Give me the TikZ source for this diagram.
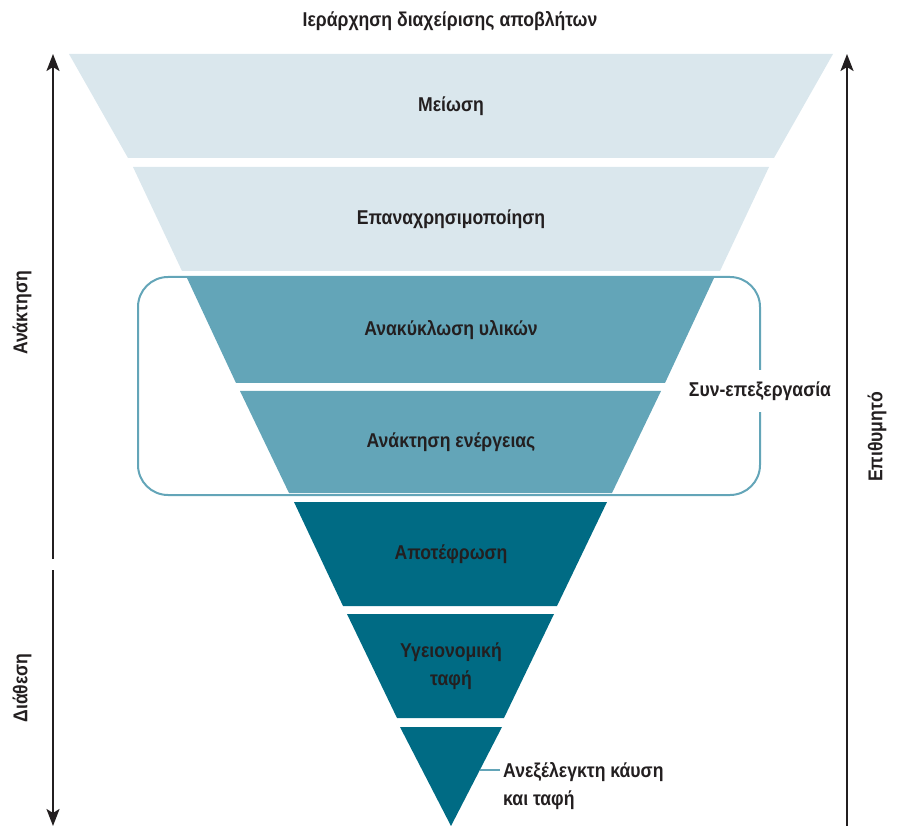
\documentclass[tikz,border=0pt]{standalone}
\usepackage{fontspec}
\setmainfont{Liberation Sans}[FakeStretch=0.88]
\usepackage{xcolor}
\usetikzlibrary{arrows.meta}

\definecolor{bandlight}{HTML}{DAE7ED}
\definecolor{bandmid}{HTML}{63A5B8}
\definecolor{banddark}{HTML}{006B84}
\definecolor{inkgray}{HTML}{231F20}

\begin{document}
\begin{tikzpicture}[
    x=1pt, y=-1pt,
    tier/.style={font=\bfseries\fontsize{20}{28}\selectfont, text=inkgray, align=center},
    sidelabel/.style={tier, rotate=90},
    axis/.style={line width=2.4pt, draw=inkgray, -{Stealth[length=17pt, width=13pt, inset=4pt]}},
    cobox/.style={draw=bandmid, line width=2pt, rounded corners=30pt}
]
    \useasboundingbox (0,0) rectangle (900,826);

    \node[tier] (title) at (450,21) {Ιεράρχηση διαχείρισης αποβλήτων};

    % co-processing frame
    \draw[cobox] (138,277) rectangle (760,495);
    \node[tier, fill=white, minimum height=42pt, inner sep=2pt] (coproc) at (760,391) {Συν-επεξεργασία};

    % funnel tiers
    \fill[bandlight] (69,54) -- (833,54) -- (774,158) -- (128,158) -- cycle;
    \fill[bandlight] (133,167) -- (769,167) -- (720,271) -- (182,271) -- cycle;
    \fill[bandmid] (187,278) -- (714,278) -- (665,383) -- (236,383) -- cycle;
    \fill[bandmid] (240,391) -- (661,391) -- (612,493) -- (289,493) -- cycle;
    \fill[banddark] (294,502) -- (607,502) -- (557,606) -- (343,606) -- cycle;
    \fill[banddark] (347,614) -- (554,614) -- (504,718) -- (397,718) -- cycle;
    \fill[banddark] (400,727) -- (502,727) -- (451,826) -- cycle;

    \node[tier] (reduce) at (451,106) {Μείωση};
    \node[tier] (reuse) at (451,219) {Επαναχρησιμοποίηση};
    \node[tier] (recycle) at (451,330) {Ανακύκλωση υλικών};
    \node[tier] (energy) at (451,442) {Ανάκτηση ενέργειας};
    \node[tier] (incin) at (451,554) {Αποτέφρωση};
    \node[tier] (landfill) at (451,666) {Υγειονομική\\ταφή};

    % uncontrolled burning callout
    \coordinate (tip) at (480,770);
    \node[tier, align=left, anchor=west, inner sep=3pt] (burn) at (500,786) {Ανεξέλεγκτη κάυση\\και ταφή};
    \draw[bandmid, line width=1.2pt] (tip) -- (tip -| burn.west);

    % side arrows
    \coordinate (recLow) at (53,559);
    \coordinate (recTop) at (53,54);
    \coordinate (dispTop) at (53,570);
    \coordinate (dispLow) at (53,826);
    \coordinate (wantLow) at (847,826);
    \coordinate (wantTop) at (847,54);
    \draw[axis] (recLow) -- (recTop);
    \draw[axis] (dispTop) -- (dispLow);
    \draw[axis] (wantLow) -- (wantTop);

    \node[sidelabel] (recovery) at (22,313) {Ανάκτηση};
    \node[sidelabel] (disposal) at (22,688) {Διάθεση};
    \node[sidelabel] (desired) at (877,437) {Επιθυμητό};
\end{tikzpicture}
\end{document}
